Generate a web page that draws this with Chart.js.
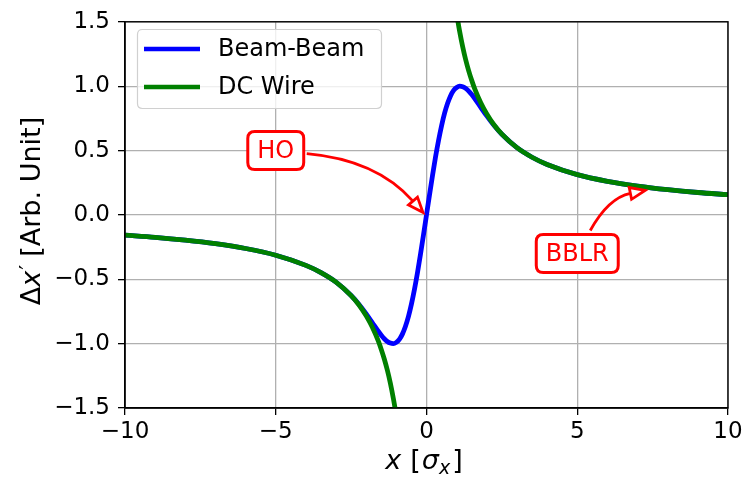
<!DOCTYPE html>
<html>
<head>
<meta charset="utf-8">
<title>Beam-Beam vs DC Wire kick</title>
<script src="https://cdn.jsdelivr.net/npm/chart.js@4.4.1/dist/chart.umd.min.js"></script>
<style>
  html, body { margin: 0; padding: 0; background: #ffffff; }
  #wrap { width: 746px; height: 484px; }
</style>
</head>
<body>
<div id="wrap"><canvas id="kickChart" width="746" height="484"></canvas></div>
<script>
// Values

// Beam-Beam kick
const beamX = [-10, -9, -8, -7, -6, -5, -4, -3.5, -3, -2.5, -2.25, -2, -1.8, -1.6, -1.5, -1.4, -1.3, -1.2, -1.1, -1,
  -0.9, -0.8, -0.7, -0.6, -0.5, -0.4, -0.3, -0.2, -0.1, 0, 0.1, 0.2, 0.3, 0.4, 0.5, 0.6, 0.7, 0.8, 0.9,
  1, 1.1, 1.2, 1.3, 1.4, 1.5, 1.6, 1.8, 2, 2.25, 2.5, 3, 3.5, 4, 5, 6, 7, 8, 9, 10];
const beamY = [-0.157, -0.174, -0.196, -0.224, -0.261, -0.313, -0.392, -0.448, -0.522, -0.626, -0.692, -0.769, -0.836, -0.904, -0.935, -0.962, -0.983, -0.996, -1.0, -0.99,
  -0.967, -0.926, -0.867, -0.79, -0.693, -0.579, -0.45, -0.307, -0.156, 0, 0.156, 0.307, 0.45, 0.579, 0.693, 0.79, 0.867, 0.926, 0.967,
  0.99, 1.0, 0.996, 0.983, 0.962, 0.935, 0.904, 0.836, 0.769, 0.692, 0.626, 0.522, 0.448, 0.392, 0.313, 0.261, 0.224, 0.196, 0.174, 0.157];

// DC wire kick (null = break at the wire)
const wireX = [-10, -9, -8, -7, -6, -5, -4, -3.5, -3, -2.5, -2.25, -2, -1.8, -1.6, -1.5, -1.4, -1.3, -1.2, -1.1, -1.05, -1,
  0, 1, 1.05, 1.1, 1.2, 1.3, 1.4, 1.5, 1.6, 1.8, 2, 2.25, 2.5, 3, 3.5, 4, 5, 6, 7, 8, 9, 10];
const wireY = [-0.157, -0.174, -0.196, -0.224, -0.261, -0.313, -0.392, -0.448, -0.522, -0.627, -0.696, -0.784, -0.871, -0.979, -1.045, -1.119, -1.205, -1.306, -1.425, -1.492, -1.567,
  null, 1.567, 1.492, 1.425, 1.306, 1.205, 1.119, 1.045, 0.979, 0.871, 0.784, 0.696, 0.627, 0.522, 0.448, 0.392, 0.313, 0.261, 0.224, 0.196, 0.174, 0.157];

// Axis ticks
const xTicks = [-10, -5, 0, 5, 10];
const yTicks = [-1.5, -1.0, -0.5, 0.0, 0.5, 1.0, 1.5];

// Legend entries
const seriesNames = ["Beam-Beam", "DC Wire"];
const seriesColors = ["#0000ff", "#008000"];

// Annotations: label, text position and arrow tip (data units)
const noteLabels = ["HO", "BBLR"];
const noteTextX = [-5.0, 5.0];
const noteTextY = [0.5, -0.3];
const noteTipX = [-0.12, 7.25];
const noteTipY = [0.02, 0.19];

const FONT = "'DejaVu Sans', sans-serif";
const RED = "#ff0000";

function toPoints(xs, ys) {
  return xs.map((x, i) => ({ x: x, y: ys[i] }));
}

function fmtTick(value, digits) {
  return value.toFixed(digits).replace("-", "\u2212");
}

// Draws a run of text pieces with their own fonts, centred on (cx, cy)
function drawPieces(ctx, pieces, cx, cy, angle) {
  ctx.save();
  ctx.translate(cx, cy);
  ctx.rotate(angle);
  let total = 0;
  pieces.forEach((p) => {
    ctx.font = p.font;
    total += ctx.measureText(p.t).width + (p.gap || 0);
  });
  let x = -total / 2;
  ctx.fillStyle = "#000000";
  ctx.textBaseline = "alphabetic";
  ctx.textAlign = "left";
  pieces.forEach((p) => {
    ctx.font = p.font;
    ctx.fillText(p.t, x, p.dy || 0);
    x += ctx.measureText(p.t).width + (p.gap || 0);
  });
  ctx.restore();
}

function roundRect(ctx, x, y, w, h, r) {
  ctx.beginPath();
  ctx.moveTo(x + r, y);
  ctx.lineTo(x + w - r, y);
  ctx.quadraticCurveTo(x + w, y, x + w, y + r);
  ctx.lineTo(x + w, y + h - r);
  ctx.quadraticCurveTo(x + w, y + h, x + w - r, y + h);
  ctx.lineTo(x + r, y + h);
  ctx.quadraticCurveTo(x, y + h, x, y + h - r);
  ctx.lineTo(x, y + r);
  ctx.quadraticCurveTo(x, y, x + r, y);
  ctx.closePath();
}

// Curved arrow from the box edge to the tip, hollow head
function drawArrow(ctx, sx, sy, ex, ey, rad) {
  const mx = (sx + ex) / 2;
  const my = (sy + ey) / 2;
  const cx = mx + rad * (ey - sy);
  const cy = my - rad * (ex - sx);

  const ang = Math.atan2(ey - cy, ex - cx);
  const headLen = 15;
  const headHalf = 6;
  const bx = ex - headLen * Math.cos(ang);
  const by = ey - headLen * Math.sin(ang);

  ctx.save();
  ctx.strokeStyle = RED;
  ctx.lineWidth = 2.8;
  ctx.lineJoin = "miter";
  ctx.beginPath();
  ctx.moveTo(sx, sy);
  ctx.quadraticCurveTo(cx, cy, bx, by);
  ctx.stroke();

  ctx.beginPath();
  ctx.moveTo(ex, ey);
  ctx.lineTo(bx + headHalf * Math.sin(ang), by - headHalf * Math.cos(ang));
  ctx.lineTo(bx - headHalf * Math.sin(ang), by + headHalf * Math.cos(ang));
  ctx.closePath();
  ctx.fillStyle = "#ffffff";
  ctx.fill();
  ctx.stroke();
  ctx.restore();
}

const decorPlugin = {
  id: "decor",
  afterDatasetsDraw(chart) {
    const ctx = chart.ctx;
    const area = chart.chartArea;
    const xs = chart.scales.x;
    const ys = chart.scales.y;

    // Frame (spines)
    ctx.save();
    ctx.strokeStyle = "#000000";
    ctx.lineWidth = 1.4;
    ctx.strokeRect(area.left, area.top, area.right - area.left, area.bottom - area.top);
    ctx.restore();

    // Legend box
    ctx.save();
    ctx.fillStyle = "rgba(255,255,255,0.8)";
    ctx.strokeStyle = "#d0d0d0";
    ctx.lineWidth = 1.2;
    roundRect(ctx, 137.5, 29.5, 244, 79, 5);
    ctx.fill();
    ctx.stroke();
    ctx.font = "24px " + FONT;
    ctx.textBaseline = "middle";
    ctx.fillStyle = "#000000";
    seriesNames.forEach((name, i) => {
      const y = 49 + i * 38;
      ctx.strokeStyle = seriesColors[i];
      ctx.lineWidth = 4.5;
      ctx.beginPath();
      ctx.moveTo(144, y);
      ctx.lineTo(200, y);
      ctx.stroke();
      ctx.fillText(name, 218, y + 1);
    });
    ctx.restore();

    // Annotations
    noteLabels.forEach((label, i) => {
      const tx = xs.getPixelForValue(noteTextX[i]);
      const ty = ys.getPixelForValue(noteTextY[i]);
      const px = xs.getPixelForValue(noteTipX[i]);
      const py = ys.getPixelForValue(noteTipY[i]);

      ctx.save();
      ctx.font = "24px " + FONT;
      const w = ctx.measureText(label).width + 19;
      const h = 38;
      ctx.fillStyle = "#ffffff";
      ctx.strokeStyle = RED;
      ctx.lineWidth = 3;
      roundRect(ctx, tx - w / 2, ty - h / 2, w, h, 7);
      ctx.fill();
      ctx.stroke();
      ctx.fillStyle = RED;
      ctx.textAlign = "center";
      ctx.textBaseline = "middle";
      ctx.fillText(label, tx, ty + 1);
      ctx.restore();

      // arrow leaves from the box edge facing the tip
      if (i === 0) {
        drawArrow(ctx, tx + w / 2 + 3, ty + 3, px, py, 0.2);
      } else {
        drawArrow(ctx, tx + 13, ty - h / 2 - 4, px, py, 0.23);
      }
    });

    // Axis titles
    drawPieces(ctx, [
      { t: "x", font: "italic 27px " + FONT, gap: 9 },
      { t: "[", font: "27px " + FONT, gap: 1 },
      { t: "\u03c3", font: "italic 27px " + FONT },
      { t: "x", font: "italic 19px " + FONT, dy: 5, gap: 2 },
      { t: "]", font: "27px " + FONT },
    ], 424, 469, 0);

    drawPieces(ctx, [
      { t: "\u0394", font: "27px " + FONT },
      { t: "x", font: "italic 27px " + FONT, gap: 1 },
      { t: "\u2032", font: "22px " + FONT, dy: -5, gap: 8 },
      { t: "[Arb. Unit]", font: "27px " + FONT },
    ], 40, 211, -Math.PI / 2);
  },
};

function initChart() {
  const ctx = document.getElementById("kickChart").getContext("2d");

  return new Chart(ctx, {
    type: "line",
    data: {
      datasets: [
        {
          label: seriesNames[0],
          data: toPoints(beamX, beamY),
          borderColor: seriesColors[0],
          borderWidth: 4.8,
          pointRadius: 0,
          cubicInterpolationMode: "monotone",
          clip: 0,
          order: 1,
        },
        {
          label: seriesNames[1],
          data: toPoints(wireX, wireY),
          borderColor: seriesColors[1],
          borderWidth: 4.8,
          pointRadius: 0,
          spanGaps: false,
          cubicInterpolationMode: "monotone",
          clip: 0,
          order: 0,
        },
      ],
    },
    options: {
      responsive: false,
      animation: false,
      events: [],
      layout: { padding: { top: 16, right: 18, left: 0, bottom: 0 } },
      plugins: {
        legend: { display: false },
        tooltip: { enabled: false },
      },
      scales: {
        x: {
          type: "linear",
          min: xTicks[0],
          max: xTicks[xTicks.length - 1],
          afterBuildTicks: (scale) => {
            scale.ticks = xTicks.map((v) => ({ value: v }));
          },
          afterFit: (scale) => {
            scale.height = 76;
          },
          ticks: {
            color: "#000000",
            font: { family: FONT, size: 23 },
            padding: 3,
            maxRotation: 0,
            callback: (v) => fmtTick(v, 0),
          },
          grid: {
            color: "#b0b0b0",
            lineWidth: 1.3,
            tickColor: "#000000",
            tickLength: 7,
            tickWidth: 1.3,
          },
          border: { color: "#000000", width: 1.4 },
        },
        y: {
          type: "linear",
          min: yTicks[0],
          max: yTicks[yTicks.length - 1],
          afterBuildTicks: (scale) => {
            scale.ticks = yTicks.map((v) => ({ value: v }));
          },
          afterFit: (scale) => {
            scale.width = 125;
          },
          ticks: {
            color: "#000000",
            font: { family: FONT, size: 23 },
            padding: 8,
            callback: (v) => fmtTick(v, 1),
          },
          grid: {
            color: "#b0b0b0",
            lineWidth: 1.3,
            tickColor: "#000000",
            tickLength: 7,
            tickWidth: 1.3,
          },
          border: { color: "#000000", width: 1.4 },
        },
      },
    },
    plugins: [decorPlugin],
  });
}

document.addEventListener("DOMContentLoaded", function () {
  initChart();
});
</script>
</body>
</html>
